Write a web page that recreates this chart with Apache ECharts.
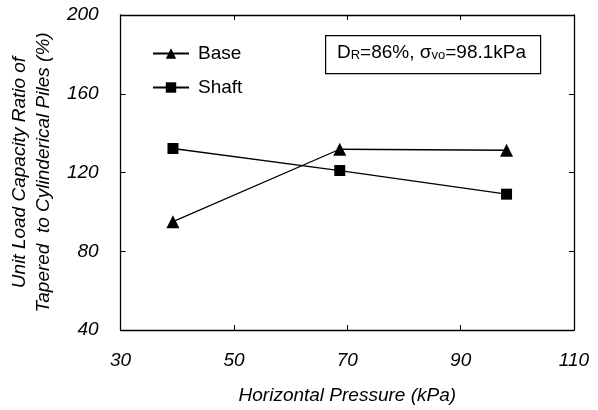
<!DOCTYPE html>
<html>
<head>
<meta charset="utf-8">
<script src="https://cdn.jsdelivr.net/npm/echarts@6/dist/echarts.min.js"></script>
<style>html,body{margin:0;padding:0;background:#fff}#c{width:598px;height:410px}</style>
</head>
<body>
<div id="c"></div>
<script>
var pressure = [39.24, 68.67, 98.1];
var baseRatio = [95, 131.8, 131.3];
var shaftRatio = [132.2, 121, 109];
var xTicks = [30, 50, 70, 90, 110];
var yTicks = [40, 80, 120, 160, 200];
var seriesNames = ['Base', 'Shaft'];

var FONT = '"Liberation Sans", Arial, sans-serif';
function pairs(xs, ys) { return xs.map(function (x, i) { return [x, ys[i]]; }); }

var chart = echarts.init(document.getElementById('c'), null, {renderer: 'canvas'});
var tickStyle = {show: true, inside: true, length: 5, lineStyle: {color: '#000', width: 1}};
var lineStyle = {color: '#000', width: 1.3};
chart.setOption({
  animation: false,
  backgroundColor: '#fff',
  grid: {left: 119, right: 24, top: 15, bottom: 77, containLabel: false},
  legend: {
    orient: 'vertical', left: 147, top: 39, itemWidth: 36, itemHeight: 13, itemGap: 15,
    textStyle: {fontFamily: FONT, fontSize: 19, color: '#000', padding: [0, 0, 0, 4]},
    data: seriesNames
  },
  xAxis: [{
    type: 'value', min: xTicks[0], max: xTicks[xTicks.length - 1], interval: 20,
    name: 'Horizontal Pressure (kPa)', nameLocation: 'middle', nameGap: 56,
    nameTextStyle: {fontFamily: FONT, fontSize: 19, fontStyle: 'italic', color: '#000'},
    axisLine: {show: true, lineStyle: {color: '#000', width: 1.3}},
    axisTick: tickStyle,
    axisLabel: {margin: 21, fontFamily: FONT, fontSize: 19, fontStyle: 'italic', color: '#000'},
    splitLine: {show: false}
  }, {
    type: 'value', position: 'top', min: xTicks[0], max: xTicks[xTicks.length - 1], interval: 20,
    axisLine: {show: true, lineStyle: {color: '#000', width: 1.3}},
    axisTick: tickStyle, axisLabel: {show: false}, splitLine: {show: false}
  }],
  yAxis: [{
    type: 'value', min: yTicks[0], max: yTicks[yTicks.length - 1], interval: 40,
    name: 'Unit Load Capacity Ratio of\nTapered  to Cylinderical Piles (%)',
    nameLocation: 'middle', nameRotate: 90, nameGap: 58,
    nameTextStyle: {fontFamily: FONT, fontSize: 19, fontStyle: 'italic', color: '#000', lineHeight: 24},
    axisLine: {show: true, lineStyle: {color: '#000', width: 1.3}},
    axisTick: tickStyle,
    axisLabel: {margin: 22, fontFamily: FONT, fontSize: 19, fontStyle: 'italic', color: '#000'},
    splitLine: {show: false}
  }, {
    type: 'value', position: 'right', min: yTicks[0], max: yTicks[yTicks.length - 1], interval: 40,
    axisLine: {show: true, lineStyle: {color: '#000', width: 1.3}},
    axisTick: tickStyle, axisLabel: {show: false}, splitLine: {show: false}
  }],
  series: [{
    name: seriesNames[0], type: 'line', data: pairs(pressure, baseRatio),
    symbol: 'triangle', symbolSize: 13, itemStyle: {color: '#000'}, lineStyle: lineStyle
  }, {
    name: seriesNames[1], type: 'line', data: pairs(pressure, shaftRatio),
    symbol: 'rect', symbolSize: 11, itemStyle: {color: '#000'}, lineStyle: lineStyle
  }],
  graphic: [{
    type: 'rect', left: 325, top: 35, shape: {width: 215, height: 38},
    style: {fill: '#fff', stroke: '#000', lineWidth: 1.2}, z: 10
  }, {
    type: 'text', left: 337, top: 43, z: 11,
    style: {
      text: '{n|D}{s|R}{n|=86%, σ}{s|vo}{n|=98.1kPa}',
      rich: {
        n: {fontFamily: FONT, fontSize: 19, fill: '#000', verticalAlign: 'bottom', lineHeight: 24},
        s: {fontFamily: FONT, fontSize: 13, fill: '#000', verticalAlign: 'bottom', lineHeight: 19}
      }
    }
  }]
});
</script>
</body>
</html>
